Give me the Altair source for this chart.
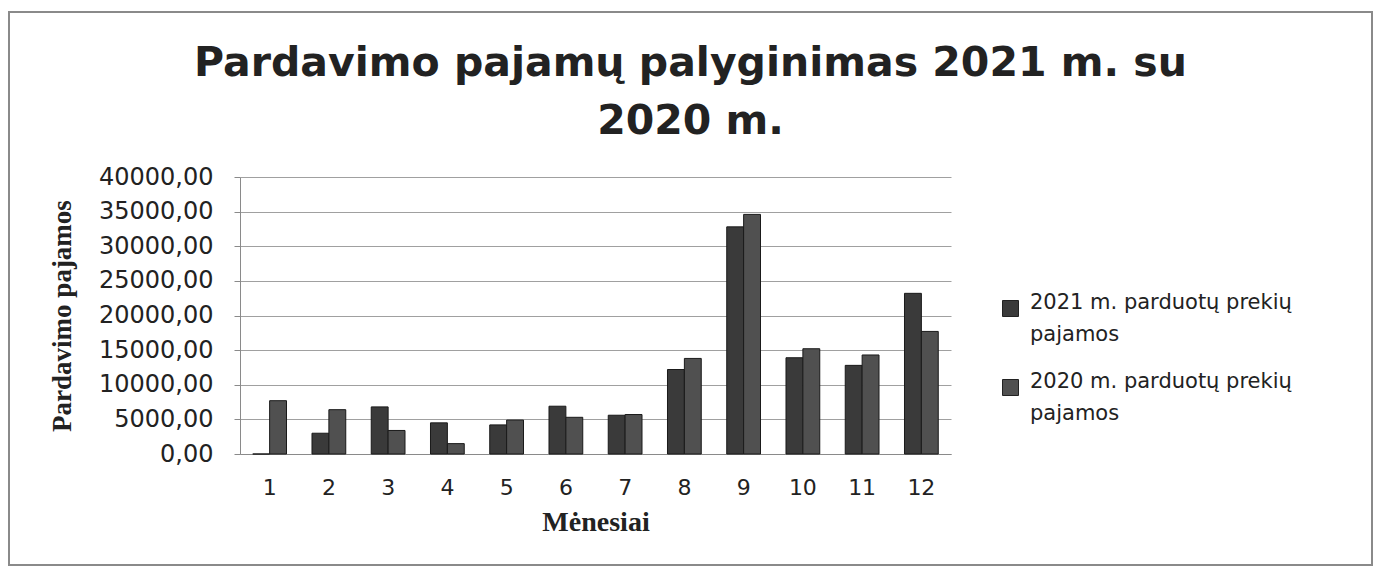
import altair as alt
import pandas as pd

months = ["1", "2", "3", "4", "5", "6", "7", "8", "9", "10", "11", "12"]
rev_2021 = [0, 3000, 6800, 4500, 4200, 6900, 5600, 12200, 32800, 13900, 12800, 23200]
rev_2020 = [7700, 6400, 3400, 1500, 4900, 5300, 5700, 13800, 34600, 15200, 14300, 17700]
series = ["2021 m. parduotų prekių pajamos", "2020 m. parduotų prekių pajamos"]
y_ticks = [0, 5000, 10000, 15000, 20000, 25000, 30000, 35000, 40000]
title_lines = ["Pardavimo pajamų palyginimas 2021 m. su", "2020 m."]

rows = []
for m, a, b in zip(months, rev_2021, rev_2020):
    rows.append({"month": m, "series": series[0], "value": a})
    rows.append({"month": m, "series": series[1], "value": b})
df = pd.DataFrame(rows)

border = alt.Chart(pd.DataFrame({"k": [0]})).mark_rect(
    fillOpacity=0, stroke="#8a8a8a", strokeWidth=2
).encode(
    x=alt.value(-231), x2=alt.value(1132), y=alt.value(-165), y2=alt.value(388)
)

bars = alt.Chart(df).mark_bar(stroke="#1a1a1a", strokeWidth=1).encode(
    x=alt.X(
        "month:N", sort=months,
        scale=alt.Scale(paddingInner=0.43, paddingOuter=0.215),
        axis=alt.Axis(
            title="Mėnesiai", labelAngle=0, ticks=False, domainColor="#8a8a8a",
            labelFont="DejaVu Sans", labelFontSize=22, labelColor="#222222",
            labelPadding=23, titleFont="Liberation Serif", titleFontSize=28,
            titleFontWeight="bold", titleColor="#222222", titlePadding=10,
        ),
    ),
    xOffset=alt.XOffset("series:N", sort=series,
                        scale=alt.Scale(paddingInner=0, paddingOuter=0)),
    y=alt.Y(
        "value:Q",
        scale=alt.Scale(domain=[0, 40000], nice=False),
        axis=alt.Axis(
            values=y_ticks,
            labelExpr="replace(format(datum.value, '.2f'), '.', ',')",
            title="Pardavimo pajamos", grid=True, gridColor="#a0a0a0",
            domainColor="#8a8a8a", tickColor="#8a8a8a", tickSize=6,
            labelFont="DejaVu Sans", labelFontSize=24, labelColor="#222222",
            labelPadding=21, titleFont="Liberation Serif", titleFontSize=27,
            titleFontWeight="bold", titleColor="#222222", titlePadding=22,
        ),
    ),
    color=alt.Color(
        "series:N", sort=series,
        scale=alt.Scale(domain=series, range=["#3a3a3a", "#505050"]),
        legend=alt.Legend(
            title=None, orient="none", legendX=760, legendY=121,
            symbolType="square", symbolSize=256, symbolStrokeColor="#222222",
            symbolStrokeWidth=1, labelFont="DejaVu Sans", labelFontSize=21,
            labelColor="#222222", labelLimit=500, labelBaseline="alphabetic",
            labelOffset=9, rowPadding=25, padding=0,
            labelExpr="[replace(datum.label, ' pajamos', ''), 'pajamos']",
        ),
    ),
)

chart = alt.layer(border, bars).properties(
    width=711, height=277,
    autosize=alt.AutoSizeParams(type="none"),
    padding={"left": 232, "top": 169, "right": 422, "bottom": 113},
    title=alt.TitleParams(
        text=title_lines, font="DejaVu Sans", fontSize=41, fontWeight="bold",
        color="#222222", anchor="middle", frame="group", dx=95,
        lineHeight=58, offset=30, dy=162,
    ),
).configure(
    style={"guide-label": {"lineHeight": 32}}
).configure_view(stroke=None)

chart.save("out.html", embed_options={"renderer": "svg", "actions": False})
